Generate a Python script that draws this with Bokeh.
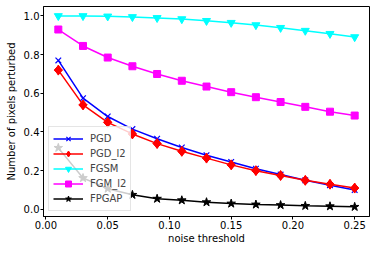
import math
from bokeh.plotting import figure
from bokeh.models import Range1d, FixedTicker, NumeralTickFormatter, Legend, LegendItem
from bokeh.embed import file_html
from bokeh.resources import INLINE

noise = [0.01, 0.03, 0.05, 0.07, 0.09, 0.11, 0.13, 0.15, 0.17, 0.19, 0.21, 0.23, 0.25]
pgd = [0.77, 0.575, 0.48, 0.415, 0.365, 0.32, 0.28, 0.245, 0.21, 0.18, 0.15, 0.125, 0.10]
pgd_l2 = [0.72, 0.54, 0.45, 0.39, 0.34, 0.30, 0.265, 0.23, 0.20, 0.175, 0.15, 0.13, 0.11]
fgsm = [1.0, 1.0, 0.998, 0.995, 0.99, 0.984, 0.975, 0.965, 0.953, 0.939, 0.924, 0.908, 0.891]
fgm_l2 = [0.93, 0.845, 0.785, 0.74, 0.70, 0.665, 0.635, 0.606, 0.58, 0.555, 0.53, 0.505, 0.485]
fpgap = [0.318, 0.162, 0.107, 0.075, 0.055, 0.047, 0.037, 0.030, 0.025, 0.022, 0.018, 0.016, 0.013]

x_ticks = [0.0, 0.05, 0.10, 0.15, 0.20, 0.25]
y_ticks = [0.0, 0.2, 0.4, 0.6, 0.8, 1.0]

FONT = "DejaVu Sans"

p = figure(width=370, height=246, output_backend="svg", toolbar_location=None,
           x_range=Range1d(-0.002, 0.262), y_range=Range1d(-0.037, 1.049),
           min_border_left=43, min_border_right=1, min_border_top=6, min_border_bottom=28)
p.xgrid.visible = False
p.ygrid.visible = False
p.outline_line_color = "black"
p.outline_line_width = 1
p.outline_line_alpha = 1

for ax in (p.xaxis[0], p.yaxis[0]):
    ax.major_label_text_font = FONT
    ax.major_label_text_font_size = "10px"
    ax.major_label_text_color = "black"
    ax.axis_label_text_font = FONT
    ax.axis_label_text_font_size = "10px"
    ax.axis_label_text_font_style = "normal"
    ax.axis_label_text_color = "black"
    ax.minor_tick_line_color = None
    ax.major_tick_in = 0
    ax.major_tick_out = 3
    ax.major_tick_line_color = "black"
    ax.axis_line_color = "black"
    ax.major_label_standoff = 1
    ax.axis_label_standoff = 1

p.yaxis.axis_label_standoff = 4
p.xaxis.ticker = FixedTicker(ticks=x_ticks)
p.xaxis.formatter = NumeralTickFormatter(format="0.00")
p.yaxis.ticker = FixedTicker(ticks=y_ticks)
p.yaxis.formatter = NumeralTickFormatter(format="0.0")
p.xaxis.axis_label = "noise threshold"
p.yaxis.axis_label = "Number of pixels perturbed"

series = [
    ("PGD", pgd, "blue", "x", 8),
    ("PGD_l2", pgd_l2, "red", "diamond", 10),
    ("FGSM", fgsm, "cyan", "inverted_triangle", 8),
    ("FGM_l2", fgm_l2, "magenta", "square", 7),
    ("FPGAP", fpgap, "black", "star", 9),
]

items = []
for name, ys, color, marker, size in series:
    r1 = p.line(noise, ys, line_color=color, line_width=1.5)
    r2 = p.scatter(noise, ys, marker=marker, size=size, fill_color=color,
                   line_color=color, line_width=1.2 if marker == "x" else 1)
    if marker == "diamond":
        p.scatter(noise, ys, marker="square", size=6, angle=math.pi / 4,
                  fill_color=color, line_color=color)
    items.append(LegendItem(label=name, renderers=[r1, r2]))

legend = Legend(items=items, location="bottom_left")
legend.margin = 5
legend.padding = 4
legend.spacing = 0
legend.glyph_height = 15
legend.label_height = 13
legend.glyph_width = 30
legend.label_standoff = 7
legend.label_text_font = FONT
legend.label_text_font_size = "10px"
legend.background_fill_alpha = 0.8
legend.border_line_color = "#cccccc"
legend.border_line_width = 1
p.add_layout(legend, "center")

open("out.html", "w").write(file_html(p, INLINE))
